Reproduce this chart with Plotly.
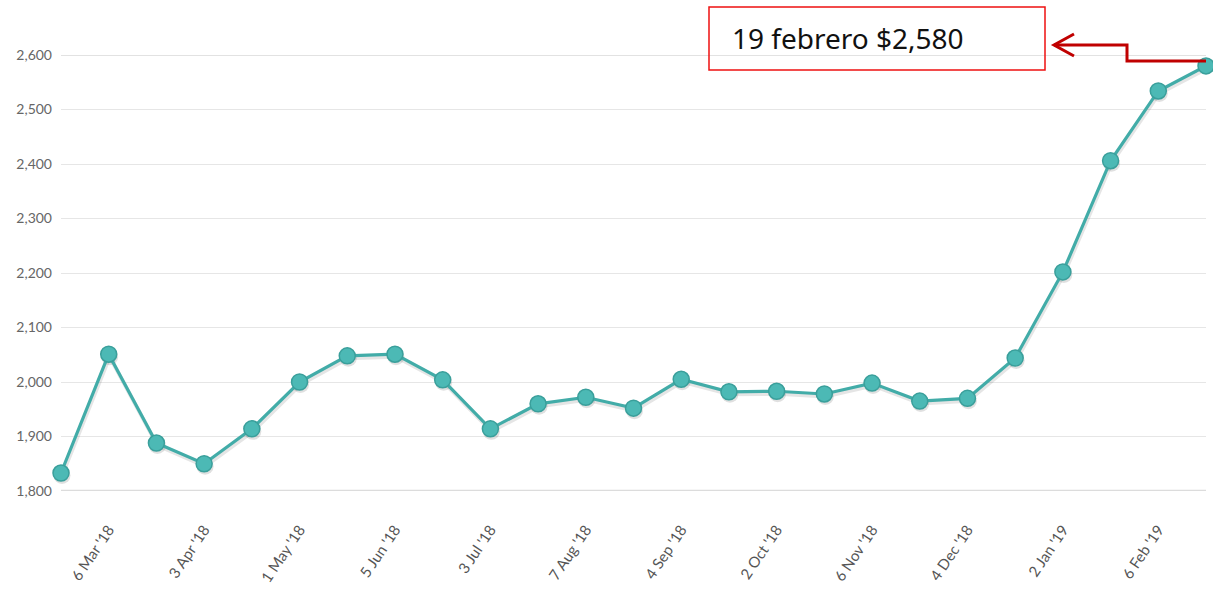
import plotly.graph_objects as go

dates = ["20 Feb '18", "6 Mar '18", "20 Mar '18", "3 Apr '18", "17 Apr '18", "1 May '18",
         "15 May '18", "5 Jun '18", "19 Jun '18", "3 Jul '18", "17 Jul '18", "7 Aug '18",
         "21 Aug '18", "4 Sep '18", "18 Sep '18", "2 Oct '18", "16 Oct '18", "6 Nov '18",
         "20 Nov '18", "4 Dec '18", "18 Dec '18", "2 Jan '19", "16 Jan '19", "6 Feb '19",
         "19 Feb '19"]
values = [1833, 2051, 1888, 1850, 1914, 2000, 2048, 2051, 2004, 1914, 1960, 1972,
          1952, 2005, 1982, 1983, 1978, 1998, 1965, 1970, 2044, 2202, 2406, 2534, 2580]
tick_labels = ["6 Mar '18", "3 Apr '18", "1 May '18", "5 Jun '18", "3 Jul '18", "7 Aug '18",
               "4 Sep '18", "2 Oct '18", "6 Nov '18", "4 Dec '18", "2 Jan '19", "6 Feb '19"]
y_ticks = [1800, 1900, 2000, 2100, 2200, 2300, 2400, 2500, 2600]
note_text = "19 febrero $2,580"

W, H = 1213, 592
SL, SR, ST, SB = 61, 1206, 55, 491
L, T, R, B = SL, ST, W - SR, H - SB
pw, ph = W - L - R, H - T - B
Y0, Y1 = 1800, 2600
N = len(dates) - 1

def px(x):
    return (x - SL) / pw

def py(y):
    return (SB - y) / ph

# soft drop shadow: same series on an overlaid axis shifted by a few pixels
sx, sy = 1.0, 2.5
fig = go.Figure()
fig.add_trace(go.Scatter(
    x=dates, y=values, mode="lines+markers", xaxis="x2", yaxis="y2",
    line=dict(color="rgba(0,0,0,0.10)", width=4),
    marker=dict(size=17, color="rgba(0,0,0,0.12)"),
    cliponaxis=False, showlegend=False, hoverinfo="skip",
))
fig.add_trace(go.Scatter(
    x=dates, y=values, mode="lines+markers", xaxis="x3", yaxis="y3",
    line=dict(color="#42aca8", width=3.2),
    marker=dict(size=16, color="#4cb9b5", line=dict(color="#3a9f9b", width=1.5)),
    cliponaxis=False, showlegend=False, hoverinfo="x+y",
))

shapes = [
    dict(type="line", xref="paper", yref="y", x0=0, x1=1, y0=1800, y1=1800,
         line=dict(color="#dcdcdc", width=2.5), layer="below"),
    dict(type="line", xref="paper", yref="y", x0=0, x1=1, y0=2600, y1=2600,
         line=dict(color="#e2e2e2", width=2), layer="below"),
    dict(type="rect", xref="paper", yref="paper", x0=px(709), x1=px(1045), y0=py(70), y1=py(7),
         line=dict(color="#ee1111", width=1.5), fillcolor="rgba(0,0,0,0)"),
    dict(type="path", xref="paper", yref="paper",
         path=f"M {px(1206)} {py(61)} L {px(1127)} {py(61)} L {px(1127)} {py(45)} L {px(1054)} {py(45)}",
         line=dict(color="#c00000", width=3)),
    dict(type="path", xref="paper", yref="paper",
         path=f"M {px(1074)} {py(34)} L {px(1054)} {py(45)} L {px(1074)} {py(56)}",
         line=dict(color="#c00000", width=3)),
]

dx = sx / pw * N
dy = sy / ph * (Y1 - Y0)

fig.update_layout(
    width=W, height=H,
    margin=dict(l=L, r=R, t=T, b=B, autoexpand=False),
    plot_bgcolor="white", paper_bgcolor="white",
    shapes=shapes,
    annotations=[dict(text=note_text, xref="paper", yref="paper", x=px(730), y=py(38),
                      xanchor="left", yanchor="middle", showarrow=False,
                      font=dict(family="Noto Sans", size=28, color="#111111"))],
    xaxis=dict(type="category", range=[0, N], tickmode="array", tickvals=tick_labels,
               ticktext=tick_labels, tickangle=-56, showgrid=False, zeroline=False,
               showline=False, ticks="", ticklabelstandoff=26, categoryarray=dates,
               tickfont=dict(family="Lato", size=15, color="#555555")),
    yaxis=dict(range=[Y0, Y1], tickvals=y_ticks, tickformat=",", showgrid=True,
               gridcolor="#e6e6e6", gridwidth=1.2, zeroline=False, showline=False,
               ticks="", ticklabelstandoff=8,
               tickfont=dict(family="Lato", size=14, color="#666666")),
    xaxis2=dict(type="category", overlaying="x", range=[-dx, N - dx], visible=False,
                categoryarray=dates),
    yaxis2=dict(overlaying="y", range=[Y0 + dy, Y1 + dy], visible=False),
    xaxis3=dict(type="category", overlaying="x", range=[0, N], visible=False,
                categoryarray=dates),
    yaxis3=dict(overlaying="y", range=[Y0, Y1], visible=False),
)

fig.write_html("out.html", post_script="document.body.style.margin='0px';",
               config={"displayModeBar": False})
